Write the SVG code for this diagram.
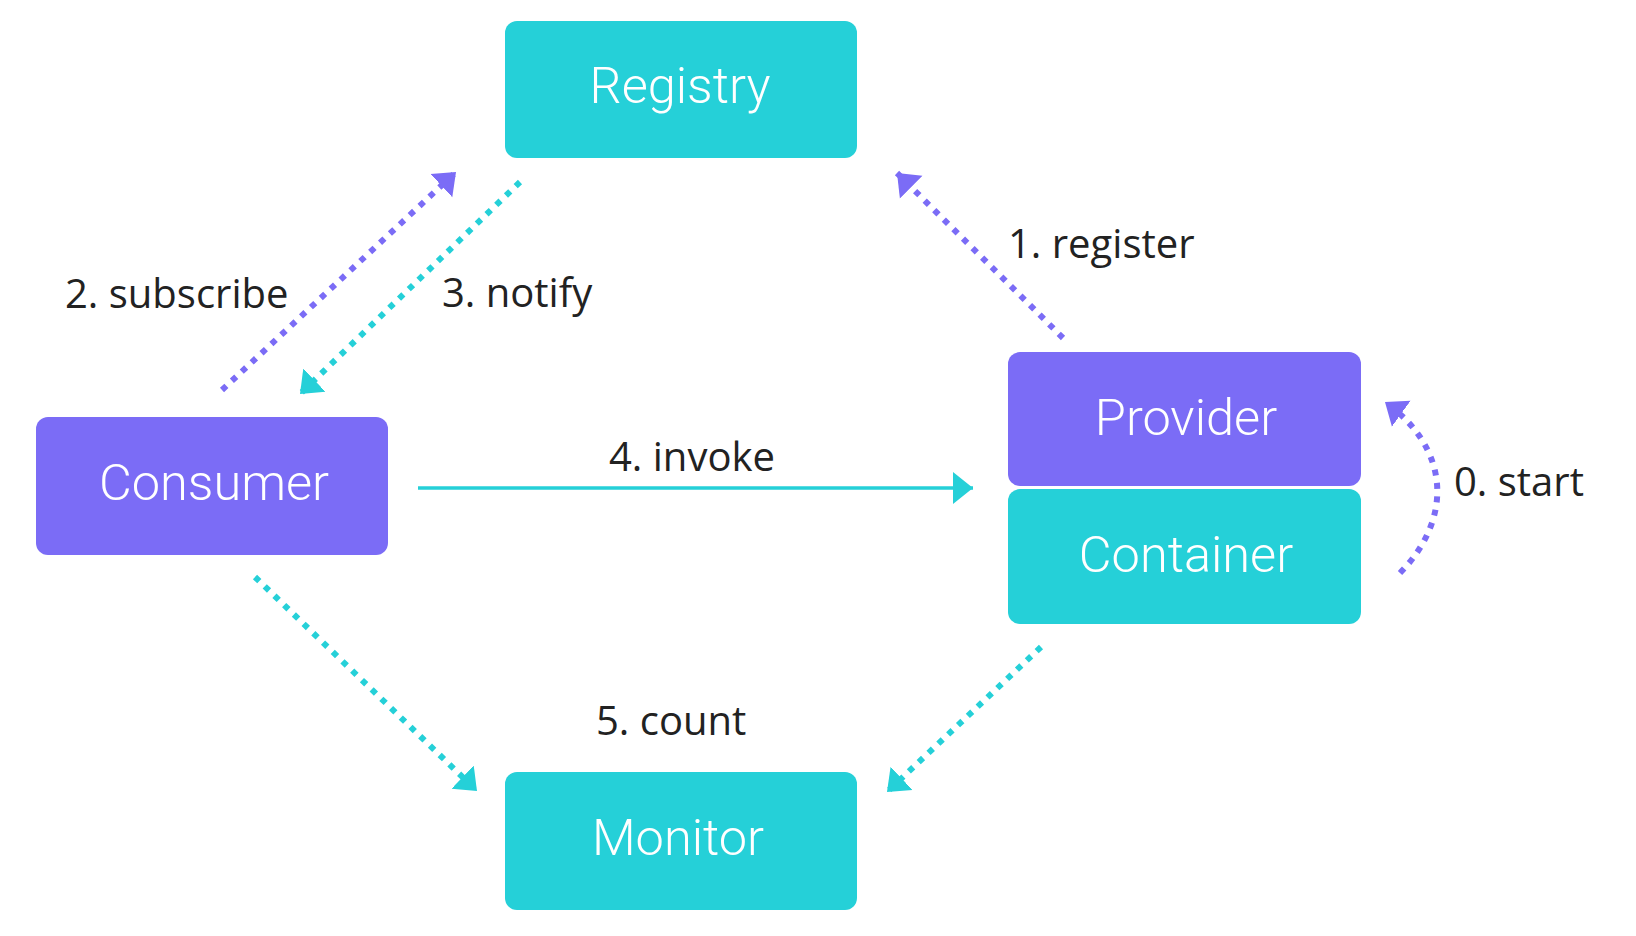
<svg xmlns="http://www.w3.org/2000/svg" width="1636" height="936" viewBox="0 0 1636 936">
  <style>
    .box-cyan { fill: #25D0D8; }
    .box-purple { fill: #7B6CF6; }
    .node-label { font-family: Roboto, "Liberation Sans", sans-serif; font-weight: 300; font-size: 50.5px; fill: #ffffff; text-anchor: middle; }
    .edge-label { font-family: "Open Sans", "Liberation Sans", sans-serif; font-size: 40px; fill: #222222; }
    .dot-purple { fill: none; stroke: #7B6CF6; stroke-width: 6; stroke-dasharray: 6 7.5; }
    .dot-cyan { fill: none; stroke: #25D0D8; stroke-width: 6; stroke-dasharray: 6 7.5; }
    .solid-cyan { fill: none; stroke: #25D0D8; stroke-width: 3.5; }
  </style>
  <defs>
    <marker id="head-purple" markerUnits="userSpaceOnUse" markerWidth="22" markerHeight="34" viewBox="0 -17 22 34" refX="20" refY="0" orient="auto">
      <path d="M0,-16 L20,0 L0,16 z" fill="#7B6CF6"/>
    </marker>
    <marker id="head-cyan" markerUnits="userSpaceOnUse" markerWidth="22" markerHeight="34" viewBox="0 -17 22 34" refX="20" refY="0" orient="auto">
      <path d="M0,-16 L20,0 L0,16 z" fill="#25D0D8"/>
    </marker>
  </defs>

  <rect width="1636" height="936" fill="#ffffff"/>

  <!-- connectors -->
  <g id="connectors">
    <line id="subscribe" class="dot-purple" x1="222" y1="390" x2="456" y2="172" marker-end="url(#head-purple)"/>
    <line id="notify" class="dot-cyan" x1="520" y1="182" x2="300" y2="394" marker-end="url(#head-cyan)"/>
    <line id="register" class="dot-purple" x1="1063" y1="338" x2="897" y2="173" marker-end="url(#head-purple)"/>
    <path id="start" class="dot-purple" d="M1400,573 C1452,520 1452,450 1385,402" marker-end="url(#head-purple)"/>
    <line id="invoke" class="solid-cyan" x1="418" y1="488" x2="973" y2="488" marker-end="url(#head-cyan)"/>
    <line id="count-consumer" class="dot-cyan" x1="255" y1="577" x2="477" y2="791" marker-end="url(#head-cyan)"/>
    <line id="count-provider" class="dot-cyan" x1="1041" y1="647" x2="887" y2="792" marker-end="url(#head-cyan)"/>

    <text class="edge-label" x="65" y="308">2. subscribe</text>
    <text class="edge-label" x="442" y="307">3. notify</text>
    <text class="edge-label" x="1008" y="258">1. register</text>
    <text class="edge-label" x="1454" y="496">0. start</text>
    <text class="edge-label" x="609" y="471">4. invoke</text>
    <text class="edge-label" x="596" y="735">5. count</text>
  </g>

  <!-- nodes -->
  <g id="registry">
    <rect class="box-cyan" x="505" y="21" width="352" height="137" rx="12"/>
    <text class="node-label" x="680" y="103">Registry</text>
  </g>
  <g id="consumer">
    <rect class="box-purple" x="36" y="417" width="352" height="138" rx="12"/>
    <text class="node-label" x="214" y="500">Consumer</text>
  </g>
  <g id="provider">
    <rect class="box-purple" x="1008" y="352" width="353" height="134" rx="12"/>
    <text class="node-label" x="1186" y="435">Provider</text>
  </g>
  <g id="container">
    <rect class="box-cyan" x="1008" y="489" width="353" height="135" rx="12"/>
    <text class="node-label" x="1186" y="572">Container</text>
  </g>
  <g id="monitor">
    <rect class="box-cyan" x="505" y="772" width="352" height="138" rx="12"/>
    <text class="node-label" x="678" y="855">Monitor</text>
  </g>
</svg>
